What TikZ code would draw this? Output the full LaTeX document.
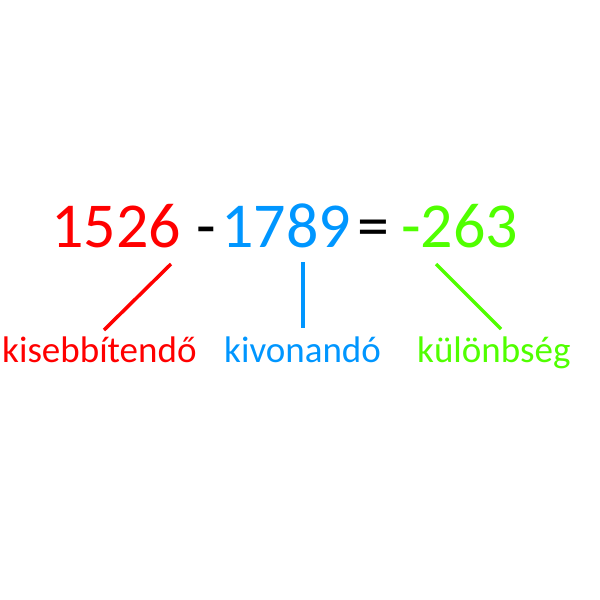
\documentclass[tikz,border=0pt]{standalone}
\usepackage{fontspec}
\setmainfont{Carlito}
\definecolor{cred}{RGB}{255,0,0}
\definecolor{cblue}{RGB}{0,150,255}
\definecolor{cgreen}{RGB}{80,255,0}
\begin{document}
\begin{tikzpicture}[x=1pt,y=-1pt,
  num/.style={inner sep=0pt,anchor=base west,font=\fontsize{64}{70}\selectfont},
  lbl/.style={inner sep=0pt,anchor=base west,font=\fontsize{37}{42}\selectfont},
  conn/.style={line width=3.5pt}]
\useasboundingbox (0,0) rectangle (600,600);
\node[num,text=cred] (a) at (51,247) {1526};
\node[num] (m) at (196,247) {-};
\node[num,text=cblue] (b) at (221,247) {1789};
\node[num] (eq) at (357,247) {=};
\node[num,text=cgreen] (c) at (401,247) {-263};
\node[lbl,text=cred] (la) at (2,362) {kisebbítendő};
\node[lbl,text=cblue] (lb) at (224,362) {kivonandó};
\node[lbl,text=cgreen] (lc) at (417,362) {különbség};
\coordinate (a1) at (171,264); \coordinate (a2) at (104,330);
\coordinate (b1) at (303,262); \coordinate (b2) at (303,328);
\coordinate (c1) at (436,264); \coordinate (c2) at (501,329);
\draw[conn,cred] (a1) -- (a2);
\draw[conn,cblue] (b1) -- (b2);
\draw[conn,cgreen] (c1) -- (c2);
\end{tikzpicture}
\end{document}
